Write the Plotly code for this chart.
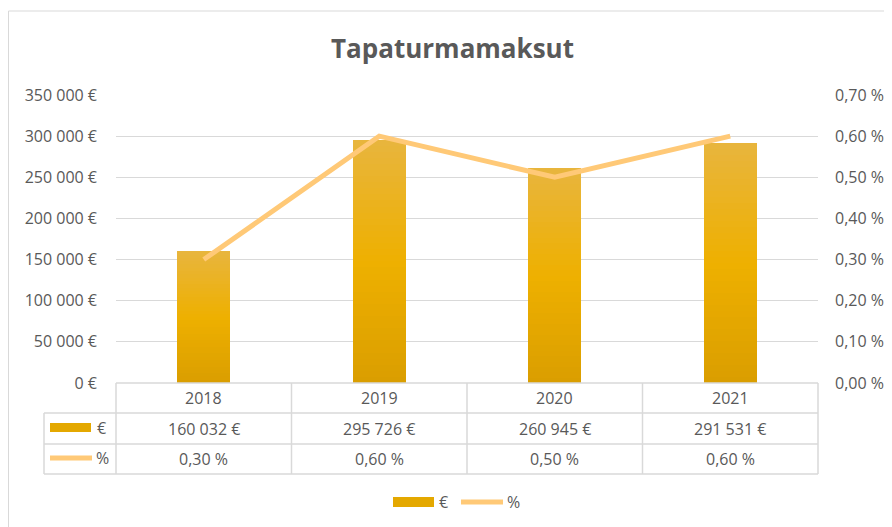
import plotly.graph_objects as go

# ---- data ----
years = ["2018", "2019", "2020", "2021"]
euro_values = [160032, 295726, 260945, 291531]
pct_values = [0.30, 0.60, 0.50, 0.60]
left_ticks = [0, 50000, 100000, 150000, 200000, 250000, 300000, 350000]
right_ticks = [0.0, 0.1, 0.2, 0.3, 0.4, 0.5, 0.6, 0.7]
title_text = "Tapaturmamaksut"
bar_name = "€"
line_name = "%"


def fmt_eur(v):
    return f"{v:,}".replace(",", " ") + " €"


def fmt_pct(p):
    return f"{p:.2f}".replace(".", ",") + " %"


W, H = 892, 527
OFF = 8  # page body margin
PL, PR, PT, PB = 116, 818, 95, 383  # plot area in screenshot px
FONT = "Open Sans"
TXT = "#595959"
GRID = "#D9D9D9"
BAR_KEY = "#E4A800"
LINE_C = "#FFC977"


def px(x):
    return (x - PL) / (PR - PL)


def py(y):
    return (PB - y) / (PB - PT)


fig = go.Figure()

# gradient bars: stacked thin slices of each value
stops = [(0.0, (218, 158, 0)), (0.5, (238, 176, 0)), (1.0, (232, 181, 62))]


def grad(t):
    for (t0, c0), (t1, c1) in zip(stops[:-1], stops[1:]):
        if t <= t1:
            f = (t - t0) / (t1 - t0)
            return "rgb(%d,%d,%d)" % tuple(round(a + (b - a) * f) for a, b in zip(c0, c1))
    return "rgb(%d,%d,%d)" % stops[-1][1]


N = 40
for i in range(N):
    fig.add_trace(go.Bar(
        x=years, y=[v / N for v in euro_values],
        marker=dict(color=grad((i + 0.5) / N), line=dict(width=0)),
        showlegend=False, hoverinfo="skip", yaxis="y",
    ))

fig.add_trace(go.Scatter(
    x=years, y=pct_values, mode="lines", yaxis="y2",
    line=dict(color=LINE_C, width=5), showlegend=False,
))

shapes = []
# outer frame
shapes.append(dict(type="rect", xref="paper", yref="paper",
                   x0=px(8.5), x1=px(W + 40), y0=py(11), y1=py(H + 40),
                   line=dict(color=GRID, width=1), fillcolor="rgba(0,0,0,0)", layer="below"))


def hline(y, x0, x1, xref="paper"):
    shapes.append(dict(type="line", xref=xref, yref="paper", x0=x0, x1=x1,
                       y0=py(y), y1=py(y), line=dict(color=GRID, width=1.5)))


def vline(x, y0, y1, xref="paper"):
    shapes.append(dict(type="line", xref=xref, yref="paper", x0=x, x1=x,
                       y0=py(y0), y1=py(y1), line=dict(color=GRID, width=1.5)))


hline(383, px(PL), px(PR))
for yy in (413, 444, 474):
    hline(yy, px(44), px(PR))
vline(px(44), 413, 474)
vline(px(PL), 383, 474)
for k in range(len(years) - 1):
    vline(k + 0.5, 383, 474, xref="x")
vline(px(PR), 383, 474)

# legend keys inside table
shapes.append(dict(type="rect", xref="paper", yref="paper", x0=px(50), x1=px(91),
                   y0=py(423), y1=py(432), fillcolor=BAR_KEY, line=dict(width=0)))
shapes.append(dict(type="line", xref="paper", yref="paper", x0=px(50), x1=px(92),
                   y0=py(458), y1=py(458), line=dict(color=LINE_C, width=5)))
# bottom legend keys
shapes.append(dict(type="rect", xref="paper", yref="paper", x0=px(393), x1=px(434),
                   y0=py(497), y1=py(507), fillcolor=BAR_KEY, line=dict(width=0)))
shapes.append(dict(type="line", xref="paper", yref="paper", x0=px(461), x1=px(503),
                   y0=py(502), y1=py(502), line=dict(color=LINE_C, width=5)))

ann = []
tf = dict(family=FONT, size=16, color=TXT)


def note(x, y, text, xref="paper", xanchor="center", font=tf):
    ann.append(dict(x=x, xref=xref, y=y, yref="paper", text=text, showarrow=False,
                    xanchor=xanchor, yanchor="middle", font=font))


for i, yr in enumerate(years):
    note(i, py(398), yr, xref="x")
    note(i, py(428.5), fmt_eur(euro_values[i]), xref="x")
    note(i, py(459), fmt_pct(pct_values[i]), xref="x")
note(px(95), py(428), bar_name, xanchor="left")
note(px(94), py(458), line_name, xanchor="left")
note(px(437), py(502), bar_name, xanchor="left")
note(px(505), py(502), line_name, xanchor="left")
note(px(452), py(48), "<b>" + title_text + "</b>", font=dict(family=FONT, size=26, color=TXT))

fig.update_layout(
    width=W, height=H,
    margin=dict(l=PL - OFF, r=W - (PR - OFF), t=PT - OFF, b=H - (PB - OFF), pad=0),
    paper_bgcolor="white", plot_bgcolor="white",
    barmode="stack", bargap=0.7,
    showlegend=False,
    font=dict(family=FONT, size=16, color=TXT),
    xaxis=dict(type="category", range=[-0.5, len(years) - 0.5], showticklabels=False,
               showgrid=False, zeroline=False, showline=False, fixedrange=True),
    yaxis=dict(range=[0, left_ticks[-1]], tickvals=left_ticks,
               ticktext=[fmt_eur(v) for v in left_ticks], showgrid=True, gridcolor=GRID,
               gridwidth=1, zeroline=False, showline=False, ticks="", ticklabelstandoff=18,
               tickfont=dict(family=FONT, size=16, color=TXT)),
    yaxis2=dict(range=[0, right_ticks[-1]], tickvals=right_ticks,
                ticktext=[fmt_pct(v) for v in right_ticks], overlaying="y", side="right",
                showgrid=False, zeroline=False, showline=False, ticks="", ticklabelstandoff=16,
                tickfont=dict(family=FONT, size=16, color=TXT)),
    shapes=shapes, annotations=ann,
)

fig.write_html("out.html")
